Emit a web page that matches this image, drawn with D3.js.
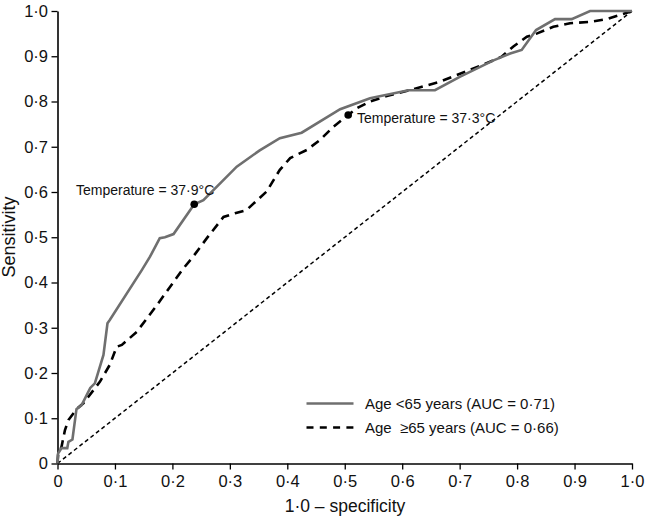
<!DOCTYPE html>
<html><head><meta charset="utf-8">
<script src="https://cdn.jsdelivr.net/npm/d3@7"></script>
<style>body{margin:0;background:#fff;} svg{display:block;font-family:"Liberation Sans",Arial,sans-serif;}</style>
</head><body><svg id="c" width="647" height="517"></svg>
<script>
const xTicks = [0,0.1,0.2,0.3,0.4,0.5,0.6,0.7,0.8,0.9,1.0];
const yTicks = [0,0.1,0.2,0.3,0.4,0.5,0.6,0.7,0.8,0.9,1.0];
const tickLabels = ["0","0·1","0·2","0·3","0·4","0·5","0·6","0·7","0·8","0·9","1·0"];
const under65X = [0,0.001,0.007,0.017,0.019,0.026,0.033,0.042,0.057,0.065,0.080,0.087,0.091,0.147,0.161,0.178,0.187,0.202,0.238,0.254,0.312,0.352,0.387,0.425,0.492,0.544,0.611,0.657,0.701,0.759,0.788,0.808,0.833,0.866,0.895,0.927,1.0];
const under65Y = [0,0.022,0.034,0.034,0.048,0.053,0.12,0.129,0.167,0.177,0.24,0.31,0.317,0.428,0.457,0.498,0.5,0.507,0.573,0.582,0.656,0.692,0.719,0.731,0.783,0.807,0.825,0.825,0.855,0.891,0.906,0.914,0.958,0.982,0.982,1.0,1.0];
const over65X = [0,0.001,0.007,0.013,0.019,0.033,0.045,0.074,0.091,0.103,0.112,0.138,0.173,0.219,0.236,0.26,0.289,0.309,0.329,0.364,0.387,0.405,0.434,0.457,0.48,0.506,0.521,0.544,0.573,0.619,0.666,0.724,0.759,0.773,0.793,0.817,0.834,0.863,0.892,0.927,0.956,0.973,1.0];
const over65Y = [0,0.019,0.037,0.074,0.096,0.12,0.133,0.181,0.218,0.258,0.262,0.291,0.35,0.431,0.457,0.498,0.545,0.553,0.56,0.601,0.649,0.675,0.693,0.715,0.744,0.77,0.785,0.8,0.812,0.827,0.844,0.873,0.891,0.899,0.921,0.943,0.95,0.965,0.973,0.976,0.982,0.989,1.0];
const markers = [{x:0.238,y:0.573,label:"Temperature = 37·9°C"},{x:0.506,y:0.77,label:"Temperature = 37·3°C"}];
const legendLabels = ["Age <65 years (AUC = 0·71)","Age  ≥65 years (AUC = 0·66)"];

const svg = d3.select("#c");
const x = d3.scaleLinear().domain([0,1]).range([57.5,632]);
const y = d3.scaleLinear().domain([0,1]).range([463.5,11]);
const fmt = d => tickLabels[Math.round(d*10)];

const gx = svg.append("g").attr("transform","translate(0,463.5)")
  .call(d3.axisBottom(x).tickValues(xTicks).tickFormat(fmt).tickSize(6).tickSizeOuter(0));
const gy = svg.append("g").attr("transform","translate(57.5,0)")
  .call(d3.axisLeft(y).tickValues(yTicks).tickFormat(fmt).tickSize(6).tickSizeOuter(0));
[gx,gy].forEach(g=>{
  g.attr("font-size",16.5).attr("font-family","Liberation Sans,Arial,sans-serif");
  g.select(".domain").attr("stroke","#000").attr("stroke-width",1.6);
  g.selectAll(".tick line").attr("stroke","#000").attr("stroke-width",1.3);
  g.selectAll(".tick text").attr("fill","#111");
});
gx.selectAll(".tick text").attr("dy","0.71em").attr("y",12);
gy.selectAll(".tick text").attr("x",-9.5);

svg.append("text").attr("x",345).attr("y",512).attr("text-anchor","middle").attr("font-size",17.5).attr("fill","#111").text("1·0 – specificity");
svg.append("text").attr("transform","translate(15,237) rotate(-90)").attr("text-anchor","middle").attr("font-size",18).attr("fill","#111").text("Sensitivity");

const line = d3.line().x(d=>x(d[0])).y(d=>y(d[1]));
svg.append("path").datum([[0,0],[1,1]]).attr("d",line).attr("fill","none").attr("stroke","#000").attr("stroke-width",1.5).attr("stroke-dasharray","4,3");
svg.append("path").datum(over65X.map((v,i)=>[v,over65Y[i]])).attr("d",line).attr("fill","none").attr("stroke","#000").attr("stroke-width",2.6).attr("stroke-dasharray","9,6");
svg.append("path").datum(under65X.map((v,i)=>[v,under65Y[i]])).attr("d",line).attr("fill","none").attr("stroke","#6f6f6f").attr("stroke-width",2.6);

markers.forEach(m=>{
  svg.append("circle").attr("cx",x(m.x)).attr("cy",y(m.y)).attr("r",3.8).attr("fill","#000");
});
svg.append("text").attr("x",76).attr("y",195).attr("font-size",14).attr("fill","#111").text(markers[0].label);
svg.append("text").attr("x",357).attr("y",123).attr("font-size",14).attr("fill","#111").text(markers[1].label);

const lg = svg.append("g");
[["#6f6f6f",null],["#000","7,6.3"]].forEach((s,i)=>{
  const yy = 403.5 + i*24;
  lg.append("line").attr("x1",306.5).attr("x2",353.5).attr("y1",yy).attr("y2",yy).attr("stroke",s[0]).attr("stroke-width",2.6).attr("stroke-dasharray",s[1]);
  lg.append("text").attr("x",365).attr("y",yy+5).attr("font-size",15).attr("fill","#111").attr("xml:space","preserve").style("white-space","pre").text(legendLabels[i]);
});
</script></body></html>
